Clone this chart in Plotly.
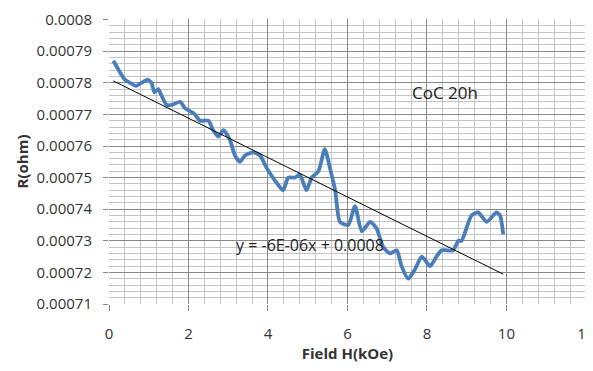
import numpy as np
import plotly.graph_objects as go

field_kOe = [0.11, 0.40, 0.53, 0.68, 0.82, 0.97, 1.07, 1.14, 1.24, 1.32, 1.45, 1.58, 1.79, 1.91,
             2.04, 2.16, 2.29, 2.50, 2.62, 2.75, 2.88, 3.04, 3.17, 3.30, 3.42, 3.63, 3.80, 3.97,
             4.18, 4.38, 4.51, 4.68, 4.80, 4.97, 5.10, 5.27, 5.43, 5.56, 5.69, 5.81, 6.02, 6.19,
             6.36, 6.57, 6.73, 6.90, 7.07, 7.24, 7.36, 7.53, 7.70, 7.87, 8.08, 8.24, 8.37, 8.50,
             8.66, 8.79, 8.87, 9.12, 9.29, 9.50, 9.75, 9.84, 9.92]
resistance_ohm = [0.000787, 0.000781, 0.000780, 0.000779, 0.000780, 0.000781, 0.000780, 0.000777,
                  0.000778, 0.000776, 0.000773, 0.000773, 0.000774, 0.000772, 0.000771, 0.000770,
                  0.000768, 0.000768, 0.000765, 0.000763, 0.000765, 0.000762, 0.000757, 0.000755,
                  0.000757, 0.000758, 0.000757, 0.000753, 0.000749, 0.000746, 0.000750, 0.000750,
                  0.000751, 0.000746, 0.000750, 0.000752, 0.000759, 0.000753, 0.000746, 0.000736,
                  0.000735, 0.000741, 0.000733, 0.000736, 0.000734, 0.000728, 0.000726, 0.000727,
                  0.000722, 0.000718, 0.000721, 0.000725, 0.000722, 0.000725, 0.000727, 0.000727,
                  0.000727, 0.000730, 0.000730, 0.000738, 0.000739, 0.000736, 0.000739, 0.000738,
                  0.000732]
x_ticks = [0, 2, 4, 6, 8, 10, 12]
y_ticks = [0.00071, 0.00072, 0.00073, 0.00074, 0.00075, 0.00076, 0.00077, 0.00078, 0.00079, 0.0008]
y_tick_labels = ["0.00071", "0.00072", "0.00073", "0.00074", "0.00075", "0.00076", "0.00077",
                 "0.00078", "0.00079", "0.0008"]
sample_label = "CoC 20h"
equation_label = "y = -6E-06x + 0.0008"

x = np.array(field_kOe)
y = np.array(resistance_ohm)
slope, intercept = np.polyfit(x, y, 1)
trend_x = [x.min(), x.max()]
trend_y = [slope * v + intercept for v in trend_x]

FONT = "Open Sans"
fig = go.Figure()
fig.add_trace(go.Scatter(x=field_kOe, y=resistance_ohm, mode="lines",
                         line=dict(color="#4a7ebb", width=3.8, shape="spline", smoothing=0.6),
                         showlegend=False, hoverinfo="skip"))
fig.add_trace(go.Scatter(x=trend_x, y=trend_y, mode="lines",
                         line=dict(color="black", width=1), showlegend=False))

fig.add_annotation(x=8.45, y=0.000777, text=sample_label, showarrow=False,
                   font=dict(family=FONT, size=17, color="#222"))
fig.add_annotation(x=5.06, y=0.0007286, text=equation_label, showarrow=False,
                   font=dict(family=FONT, size=16, color="#222"))

# the page body has an 8px margin, so the figure is sized/placed to compensate
fig.update_layout(
    width=593, height=363,
    margin=dict(l=101, r=15, t=11, b=67, autoexpand=False),
    paper_bgcolor="white", plot_bgcolor="white",
    font=dict(family=FONT, size=15, color="#333"),
    xaxis=dict(range=[0, 12.002], tickvals=x_ticks, ticks="outside", ticklen=6,
               tickcolor="#888", showline=False, zeroline=False, automargin=False,
               ticklabeloverflow="allow",
               showgrid=True, gridcolor="#888888", gridwidth=1,
               minor=dict(dtick=0.4, showgrid=True, gridcolor="#c4c4c4", gridwidth=1),
               ticklabelstandoff=10,
               title=dict(text="<b>Field H(kOe)</b>", font=dict(family=FONT, size=15, color="#333"),
                          standoff=2)),
    yaxis=dict(range=[0.00071, 0.0008002], tickvals=y_ticks, ticktext=y_tick_labels,
               ticks="outside", ticklen=5, tickcolor="#888", showline=False, zeroline=False,
               automargin=False,
               showgrid=True, gridcolor="#888888", gridwidth=1,
               minor=dict(dtick=0.000002, tick0=0.00071, showgrid=True, gridcolor="#c4c4c4", gridwidth=1),
               ticklabelstandoff=8,
               title=dict(text="<b>R(ohm)</b>", font=dict(family=FONT, size=15, color="#333"),
                          standoff=4)),
)
fig.write_html("out.html")
